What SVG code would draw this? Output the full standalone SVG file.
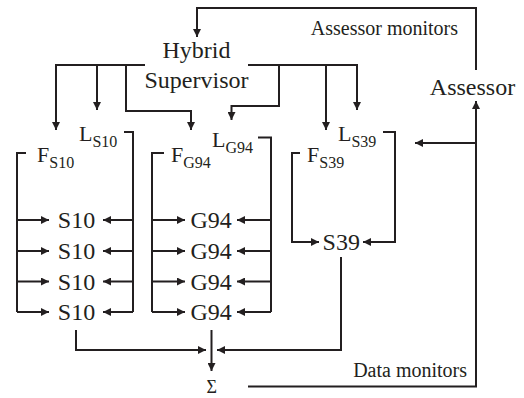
<svg xmlns="http://www.w3.org/2000/svg" width="524" height="398" viewBox="0 0 524 398">
<defs>
<marker id="ah" viewBox="0 0 10 10" refX="10" refY="5" markerWidth="9" markerHeight="8" markerUnits="userSpaceOnUse" orient="auto">
<path d="M0,0 L10,5 L0,10 z" fill="#231f20"/>
</marker>
<style>
text{font-family:"Liberation Serif","Times New Roman",serif;fill:#231f20}
.big{font-size:24px}
.lab{font-size:22px}
.sm{font-size:20px}
.sub{font-size:16px}
.c{text-anchor:middle}
.ln{fill:none;stroke:#231f20;stroke-width:2}
.ar{fill:none;stroke:#231f20;stroke-width:2;marker-end:url(#ah)}
</style>
</defs>
<rect width="524" height="398" fill="#fff"/>
<g id="connectors">
<path class="ar" d="M476,70 V8 H197 V37"/>
<path class="ar" d="M145,65 H56 V130"/>
<path class="ar" d="M97,65 V110"/>
<path class="ar" d="M126,65 V111 H191 V130"/>
<path class="ar" d="M248,65 H357 V110"/>
<path class="ar" d="M279,65 V106 H231.5 V120"/>
<path class="ar" d="M326,65 V130"/>
<path class="ln" d="M26,153 H17 V312"/>
<path class="ln" d="M124,132 H133 V312"/>
<path class="ar" d="M17,220 H49"/><path class="ar" d="M17,251 H49"/><path class="ar" d="M17,281.5 H49"/><path class="ar" d="M17,312 H49"/>
<path class="ar" d="M133,220 H103"/><path class="ar" d="M133,251 H103"/><path class="ar" d="M133,281.5 H103"/><path class="ar" d="M133,312 H103"/>
<path class="ln" d="M164,153 H152 V312"/>
<path class="ln" d="M258,137.5 H271 V312"/>
<path class="ar" d="M152,220 H185"/><path class="ar" d="M152,251 H185"/><path class="ar" d="M152,281.5 H185"/><path class="ar" d="M152,312 H185"/>
<path class="ar" d="M271,220 H237"/><path class="ar" d="M271,251 H237"/><path class="ar" d="M271,281.5 H237"/><path class="ar" d="M271,312 H237"/>
<path class="ar" d="M300,153 H292 V242 H319"/>
<path class="ar" d="M383,132 H395 V242 H363"/>
<path class="ar" d="M476,143 H415"/>
<path class="ar" d="M76,330 V350 H206"/>
<path class="ar" d="M211.5,330 V371"/>
<path class="ar" d="M341,257 V350 H217"/>
<path class="ar" d="M248,386.5 H476 V101"/>
</g>
<g id="supervisor"><text class="big c" x="196.5" y="58">Hybrid</text><text class="big c" x="196.5" y="88">Supervisor</text></g>
<g id="assessor"><text class="big c" x="472.5" y="95">Assessor</text></g>
<g id="label-assessor-monitors"><text class="sm" x="458" y="35" text-anchor="end">Assessor monitors</text></g>
<g id="label-data-monitors"><text class="sm" x="467" y="377" text-anchor="end">Data monitors</text></g>
<g id="L-S10"><text class="lab" x="79" y="141">L<tspan class="sub" dy="6">S10</tspan></text></g>
<g id="F-S10"><text class="lab" x="37" y="162">F<tspan class="sub" dy="6">S10</tspan></text></g>
<g id="F-G94"><text class="lab" x="171" y="162">F<tspan class="sub" dy="6">G94</tspan></text></g>
<g id="L-G94"><text class="lab" x="212" y="147">L<tspan class="sub" dy="6">G94</tspan></text></g>
<g id="F-S39"><text class="lab" x="307" y="162">F<tspan class="sub" dy="6">S39</tspan></text></g>
<g id="L-S39"><text class="lab" x="338" y="141">L<tspan class="sub" dy="6">S39</tspan></text></g>
<g id="S10-1"><text class="big c" x="76.5" y="228">S10</text></g>
<g id="S10-2"><text class="big c" x="76.5" y="259">S10</text></g>
<g id="S10-3"><text class="big c" x="76.5" y="289.5">S10</text></g>
<g id="S10-4"><text class="big c" x="76.5" y="320">S10</text></g>
<g id="G94-1"><text class="big c" x="211.2" y="228">G94</text></g>
<g id="G94-2"><text class="big c" x="211.2" y="259">G94</text></g>
<g id="G94-3"><text class="big c" x="211.2" y="289.5">G94</text></g>
<g id="G94-4"><text class="big c" x="211.2" y="320">G94</text></g>
<g id="S39"><text class="big c" x="341.3" y="250">S39</text></g>
<g id="sigma"><text class="c" x="211.7" y="393" font-size="18">Σ</text></g>
</svg>
